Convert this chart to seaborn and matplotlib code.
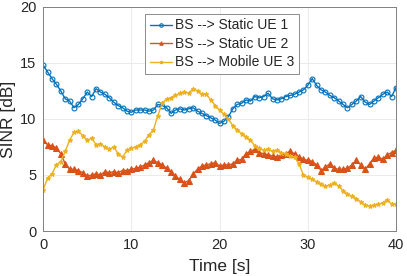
import numpy as np
import pandas as pd
import matplotlib
matplotlib.use('Agg')
import matplotlib.pyplot as plt
import seaborn as sns

# time axis (0.5 s steps)
time_s = np.arange(0, 40.01, 0.5)

ue1 = [14.8, 14.2, 13.6, 13.1, 12.5, 11.8, 11.6, 11.0, 11.3, 11.8,
       12.4, 12.0, 12.7, 12.4, 12.2, 11.9, 11.5, 11.2, 11.0, 10.7,
       10.6, 10.8, 10.8, 10.8, 10.7, 10.8, 11.3, 11.2, 11.0, 10.5,
       10.8, 10.9, 10.8, 10.9, 11.0, 10.7, 10.5, 10.3, 10.1, 9.9,
       9.6, 9.8, 10.2, 10.9, 11.3, 11.4, 11.7, 11.6, 12.0, 11.9,
       12.0, 12.3, 11.8, 11.7, 11.8, 12.0, 12.1, 12.2, 12.4, 12.6,
       13.0, 13.6, 13.0, 12.6, 12.4, 12.1, 11.9, 11.6, 11.3, 11.0,
       11.3, 11.6, 12.0, 11.5, 11.3, 11.6, 11.9, 12.2, 12.4, 12.0,
       12.8]

ue2 = [8.1, 7.7, 7.6, 7.4, 6.9, 6.0, 5.5, 5.5, 5.4, 5.2,
       4.9, 5.0, 5.1, 5.0, 5.3, 5.2, 5.3, 5.2, 5.4, 5.4,
       5.5, 5.6, 5.7, 5.9, 6.1, 6.3, 6.1, 5.9, 5.6, 5.3,
       4.9, 4.6, 4.3, 4.5, 5.1, 5.5, 5.8, 5.9, 6.0, 6.1,
       5.8, 5.9, 5.9, 6.0, 6.3, 6.4, 6.9, 7.1, 7.3, 7.0,
       6.9, 6.8, 6.7, 6.6, 6.8, 6.9, 7.1, 6.9, 6.6, 6.4,
       6.3, 6.2, 5.9, 5.4, 5.7, 6.0, 5.6, 5.5, 5.5, 5.6,
       5.9, 6.3, 5.9, 5.5, 6.0, 6.5, 6.6, 6.4, 6.8, 7.0,
       7.2]

ue3 = [3.7, 4.7, 5.1, 5.9, 6.2, 7.1, 8.1, 8.8, 8.9, 8.5,
       8.1, 8.3, 7.7, 7.8, 7.5, 7.3, 7.5, 6.9, 6.6, 7.2,
       7.4, 7.5, 7.7, 8.0, 8.6, 9.0, 10.3, 11.4, 11.8, 11.9,
       12.1, 12.3, 12.4, 12.3, 12.7, 12.5, 12.2, 12.2, 11.7, 11.2,
       10.8, 10.4, 10.0, 9.4, 9.0, 8.7, 8.4, 8.1, 7.6, 7.4,
       7.2, 7.3, 7.1, 7.2, 7.0, 6.9, 6.7, 6.6, 6.0, 5.0,
       4.8, 4.6, 4.4, 4.2, 4.0, 4.1, 4.3, 4.0, 3.6, 3.3,
       3.1, 2.9, 2.6, 2.3, 2.2, 2.3, 2.4, 2.5, 2.8, 2.4,
       2.4]

labels = ['BS --> Static UE 1', 'BS --> Static UE 2', 'BS --> Mobile UE 3']
colors = ['#0072BD', '#D95319', '#EDB120']

df = pd.DataFrame({'t': time_s, labels[0]: ue1, labels[1]: ue2, labels[2]: ue3})

sns.set_style('white')
plt.rcParams['font.family'] = ['Liberation Sans', 'DejaVu Sans']

fig = plt.figure(figsize=(4.07, 2.76), dpi=100)
ax = fig.add_axes([0.106, 0.163, 0.867, 0.812])

sns.lineplot(data=df, x='t', y=labels[0], ax=ax, color=colors[0], label=labels[0],
             marker='o', markersize=3.5, markerfacecolor='none', markeredgecolor=colors[0],
             markeredgewidth=0.8, linewidth=1.0)
sns.lineplot(data=df, x='t', y=labels[1], ax=ax, color=colors[1], label=labels[1],
             marker='^', markersize=4, markeredgecolor=colors[1], linewidth=1.0)
sns.lineplot(data=df, x='t', y=labels[2], ax=ax, color=colors[2], label=labels[2],
             marker='*', markersize=3.5, markeredgecolor=colors[2], linewidth=1.0)

ax.set_xlim(0, 40)
ax.set_ylim(0, 20)
ax.set_xticks([0, 10, 20, 30, 40])
ax.set_yticks([0, 5, 10, 15, 20])
ax.set_xlabel('Time [s]', fontsize=12.5, labelpad=5)
ax.set_ylabel('SINR [dB]', fontsize=12.5, labelpad=3)
ax.tick_params(direction='in', length=3, labelsize=10.5, labelcolor='#262626',
               color='#808080', width=0.6, pad=5)
ax.grid(True, color='#e8e8e8', linewidth=0.6)
for sp in ax.spines.values():
    sp.set_visible(True)
    sp.set_color('#808080')
    sp.set_linewidth(0.7)

leg = ax.legend(loc='upper center', bbox_to_anchor=(0.507, 0.97), fontsize=10,
                frameon=True, fancybox=False, edgecolor='#8c8c8c', framealpha=1,
                handlelength=1.6, handletextpad=0.25, borderpad=0.35, labelspacing=0.32,
                borderaxespad=0.0)
leg.get_frame().set_linewidth(0.7)
for h in leg.legend_handles:
    h.set_markersize(2.5)

fig.savefig('out.png', dpi=100)
